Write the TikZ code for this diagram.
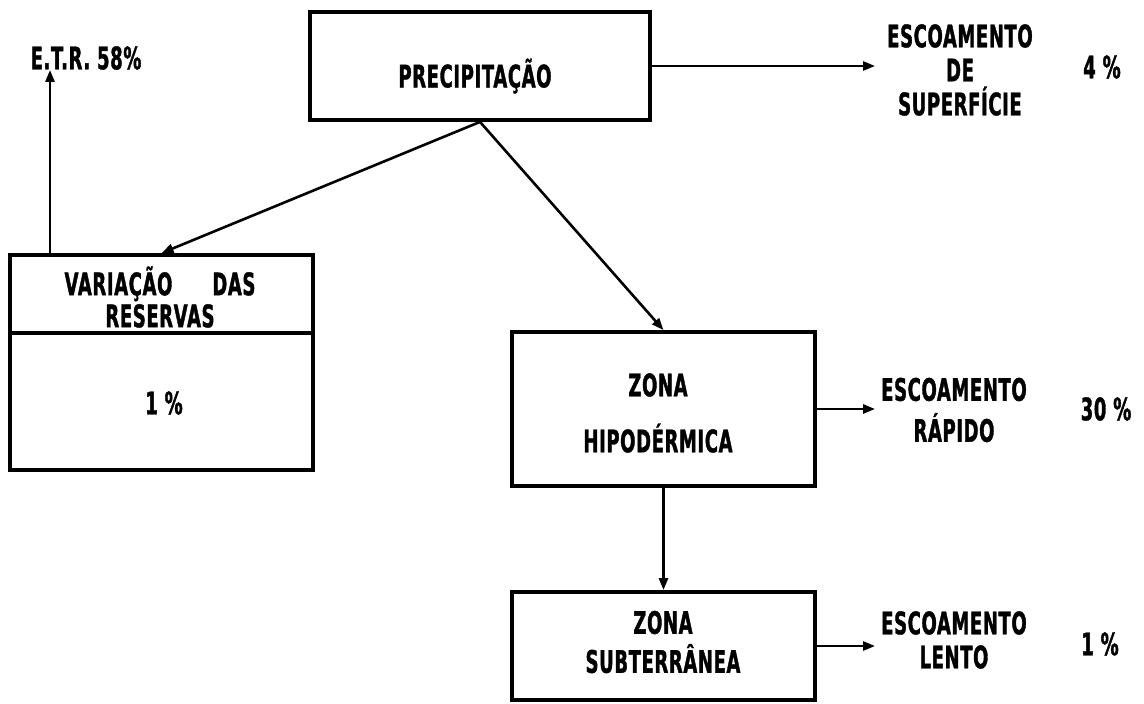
\documentclass[tikz,border=0pt]{standalone}
\usepackage{fontspec}
\newfontfamily\lett{DejaVu Sans}[FakeStretch=0.58,LetterSpace=2,FakeBold=1.2]
\usetikzlibrary{arrows.meta}
\begin{document}
\begin{tikzpicture}[x=1pt,y=-1pt,
  every node/.style={font=\lett\bfseries\fontsize{31}{34}\selectfont},
  blockbox/.style={draw,line width=3.8pt,inner sep=0pt,rectangle},
  lbl/.style={inner sep=0pt,align=center},
  arr/.style={line width=2.6pt,-{Triangle[length=12pt,width=9pt]}}]
\useasboundingbox (0,0) rectangle (1144,704);

% boxes
\node[blockbox,minimum width=340pt,minimum height=108pt] (prec) at (480,66) {};
\node[lbl] (precT) at (475,76) {PRECIPITAÇÃO};

\node[blockbox,minimum width=303pt,minimum height=215pt] (var) at (161.5,362.5) {};
\draw[line width=3.8pt] (var.west |- 0,333) -- (var.east |- 0,333);
\node[lbl] (varT) at (160,297) {VARIAÇÃO\hspace{40pt}DAS\\[-2pt]RESERVAS};
\node[lbl] (varP) at (164,403) {1 \%};

\node[blockbox,minimum width=303pt,minimum height=154pt] (zh) at (663.5,409) {};
\node[lbl] (zhT) at (658,413) {ZONA\\[22pt]HIPODÉRMICA};

\node[blockbox,minimum width=303pt,minimum height=108pt] (zs) at (663.5,646) {};
\node[lbl] (zsT) at (663,642) {ZONA\\[5pt]SUBTERRÂNEA};

% outflow labels
\node[lbl] (etr) at (86,58) {E.T.R. 58\%};
\node[lbl] (sup) at (960,70) {ESCOAMENTO\\DE\\SUPERFÍCIE};
\node[lbl] (p4) at (1102,67) {4 \%};
\node[lbl] (rap) at (954,410) {ESCOAMENTO\\[7pt]RÁPIDO};
\node[lbl] (p30) at (1106,409) {30 \%};
\node[lbl] (lent) at (954,640) {ESCOAMENTO\\LENTO};
\node[lbl] (p1) at (1100,644) {1 \%};

% connectors
\coordinate (etrfoot) at (50,255);
\draw[arr,shorten >=12pt] (prec.east) -- (prec.east -| sup.west);
\draw[arr] (prec.south) -- (var.north);
\draw[arr] (prec.south) -- (zh.north);
\draw[arr] (etrfoot) -- (etrfoot |- etr.south);
\draw[arr] (zh.south) -- (zs.north);
\draw[arr,shorten >=6pt] (zh.east) -- (zh.east -| rap.west);
\draw[arr,shorten >=6pt] (zs.east) -- (zs.east -| lent.west);
\end{tikzpicture}
\end{document}
